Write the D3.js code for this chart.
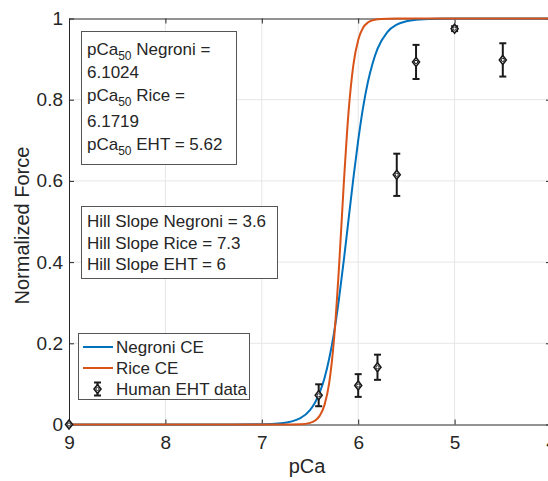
<!DOCTYPE html>
<html>
<head>
<meta charset="utf-8">
<script src="https://d3js.org/d3.v7.min.js"></script>
<style>
  body { margin: 0; background: #fff; }
  text { font-family: Arial, "Liberation Sans", sans-serif; }
</style>
</head>
<body>
<svg width="548" height="481"></svg>
<script>
// curve samples (pCa, normalized force)
var curvePCa = [9, 8, 7.5, 7, 6.8, 6.6, 6.5, 6.45, 6.4, 6.35, 6.3, 6.25, 6.2, 6.15, 6.1, 6.05, 6.0,
  5.95, 5.9, 5.85, 5.8, 5.7, 5.6, 5.5, 5.4, 5.2, 5.0, 4.5, 4]
var negroniForce = [0, 0, 0.00001, 0.0006, 0.0031, 0.0159, 0.0357, 0.0531, 0.0783, 0.1138, 0.163, 0.227,
  0.308, 0.403, 0.505, 0.607, 0.700, 0.780, 0.843, 0.890, 0.925, 0.966, 0.985, 0.9933, 0.997, 0.9994, 1, 1, 1]
var riceForce = [0, 0, 0, 0, 0.00003, 0.00075, 0.0040, 0.0092, 0.0212, 0.0477, 0.104, 0.212,
  0.384, 0.591, 0.770, 0.886, 0.947, 0.977, 0.990, 0.9956, 0.998, 0.9996, 1, 1, 1, 1, 1, 1, 1]

// human EHT measurements
var ehtPCa = [9, 6.41, 6.0, 5.8, 5.6, 5.4, 5.0, 4.5]
var ehtForce = [0, 0.072, 0.096, 0.141, 0.615, 0.893, 0.975, 0.898]
var ehtErr = [0, 0.027, 0.028, 0.031, 0.052, 0.042, 0.006, 0.041]

var xTicks = [9, 8, 7, 6, 5, 4]
var yTicks = [0, 0.2, 0.4, 0.6, 0.8, 1]

var noteLines1 = [["pCa", "50", " Negroni ="], ["6.1024"], ["pCa", "50", " Rice ="], ["6.1719"], ["pCa", "50", " EHT = 5.62"]]
var noteLines2 = ["Hill Slope Negroni = 3.6", "Hill Slope Rice = 7.3", "Hill Slope EHT = 6"]

var blue = "#0072BD", orange = "#D95319", ink = "#262626"

var svg = d3.select("svg")
var plotL = 69, plotR = 551, plotT = 18.5, plotB = 424.5

var x = d3.scaleLinear().domain([9, 4]).range([plotL, plotR])
var y = d3.scaleLinear().domain([0, 1]).range([plotB, plotT])

// grid
var grid = svg.append("g")
grid.selectAll(".gx").data(xTicks.slice(1, -1)).enter().append("line")
  .attr("x1", function (d) { return x(d) }).attr("x2", function (d) { return x(d) })
  .attr("y1", plotT).attr("y2", plotB)
  .attr("stroke", "#e6e6e6").attr("stroke-width", 1)
grid.selectAll(".gy").data(yTicks.slice(1, -1)).enter().append("line")
  .attr("x1", plotL).attr("x2", plotR)
  .attr("y1", function (d) { return y(d) }).attr("y2", function (d) { return y(d) })
  .attr("stroke", "#e6e6e6").attr("stroke-width", 1)

// axes
svg.append("g").attr("transform", "translate(0," + plotB + ")")
  .call(d3.axisBottom(x).tickValues(xTicks).tickFormat(d3.format("d")).tickSizeInner(-5).tickSizeOuter(0).tickPadding(11))
svg.append("g").attr("transform", "translate(" + plotL + ",0)")
  .call(d3.axisLeft(y).tickValues(yTicks).tickFormat(function (d) { return d === 0 || d === 1 ? d : d3.format(".1f")(d) })
    .tickSizeInner(-5).tickSizeOuter(0).tickPadding(6))
svg.append("g").attr("transform", "translate(0," + plotT + ")")
  .call(d3.axisTop(x).tickValues(xTicks).tickFormat("").tickSizeInner(-5).tickSizeOuter(0))
svg.append("g").attr("transform", "translate(" + plotR + ",0)")
  .call(d3.axisRight(y).tickValues(yTicks).tickFormat("").tickSizeInner(-5).tickSizeOuter(0))
svg.selectAll(".domain").attr("stroke", ink).attr("stroke-width", 1)
svg.selectAll(".tick line").attr("stroke", ink)
svg.selectAll(".tick text").attr("fill", ink).style("font-size", "19px")

svg.append("text").attr("x", x(6.53)).attr("y", 473).attr("text-anchor", "middle")
  .attr("fill", ink).style("font-size", "20px").text("pCa")
svg.append("text").attr("transform", "translate(29," + y(0.49) + ") rotate(-90)")
  .attr("text-anchor", "middle").attr("fill", ink).style("font-size", "20px").text("Normalized Force")

// curves
var line = d3.line()
  .x(function (d) { return x(d[0]) })
  .y(function (d) { return y(d[1]) })
  .curve(d3.curveMonotoneX)
svg.append("path").datum(d3.zip(curvePCa, negroniForce))
  .attr("d", line).attr("fill", "none").attr("stroke", blue).attr("stroke-width", 2)
svg.append("path").datum(d3.zip(curvePCa, riceForce))
  .attr("d", line).attr("fill", "none").attr("stroke", orange).attr("stroke-width", 2)

// EHT data with error bars
function drawPoint(g, cx, cy, lo, hi) {
  if (hi - lo > 1) {
    g.append("line").attr("x1", cx).attr("x2", cx).attr("y1", lo).attr("y2", hi)
      .attr("stroke", "#1a1a1a").attr("stroke-width", 2)
    g.append("line").attr("x1", cx - 3.5).attr("x2", cx + 3.5).attr("y1", lo).attr("y2", lo)
      .attr("stroke", "#1a1a1a").attr("stroke-width", 2)
    g.append("line").attr("x1", cx - 3.5).attr("x2", cx + 3.5).attr("y1", hi).attr("y2", hi)
      .attr("stroke", "#1a1a1a").attr("stroke-width", 2)
  }
  g.append("path").attr("d", "M" + cx + "," + (cy - 4.5) + "L" + (cx + 3.5) + "," + cy + "L" + cx + "," + (cy + 4.5) + "L" + (cx - 3.5) + "," + cy + "Z")
    .attr("fill", "#fff").attr("stroke", "#1a1a1a").attr("stroke-width", 1.6)
  g.append("circle").attr("cx", cx).attr("cy", cy).attr("r", 1.6)
    .attr("fill", "#fff").attr("stroke", "#1a1a1a").attr("stroke-width", 1)
}
var pts = svg.append("g")
ehtPCa.forEach(function (p, i) {
  drawPoint(pts, x(p), y(ehtForce[i]), y(ehtForce[i] + ehtErr[i]), y(ehtForce[i] - ehtErr[i]))
})

// annotation boxes
var box1 = svg.append("g")
var box1Base = [55, 78, 101, 127, 150]
box1.append("rect").attr("x", 81.5).attr("y", 31.5).attr("width", 155).attr("height", 133)
  .attr("fill", "#fff").attr("stroke", "#555").attr("stroke-width", 1)
noteLines1.forEach(function (parts, i) {
  var t = box1.append("text").attr("x", 87).attr("y", box1Base[i]).attr("fill", ink).style("font-size", "17px")
  t.append("tspan").text(parts[0])
  if (parts.length > 1) {
    t.append("tspan").attr("dy", 5).style("font-size", "12px").text(parts[1])
    t.append("tspan").attr("dy", -5).text(parts[2])
  }
})

var box2 = svg.append("g")
box2.append("rect").attr("x", 81.5).attr("y", 206.5).attr("width", 196).attr("height", 72)
  .attr("fill", "#fff").attr("stroke", "#555").attr("stroke-width", 1)
noteLines2.forEach(function (s, i) {
  box2.append("text").attr("x", 87).attr("y", 227 + i * 21.5).attr("fill", ink).style("font-size", "17px").text(s)
})

// legend
var lg = svg.append("g")
lg.append("rect").attr("x", 78.5).attr("y", 333.5).attr("width", 171).attr("height", 66)
  .attr("fill", "#fff").attr("stroke", "#555").attr("stroke-width", 1)
var legendItems = [["Negroni CE", blue], ["Rice CE", orange], ["Human EHT data", null]]
legendItems.forEach(function (it, i) {
  var ly = 347 + i * 21
  if (it[1]) {
    lg.append("line").attr("x1", 83).attr("x2", 113).attr("y1", ly).attr("y2", ly)
      .attr("stroke", it[1]).attr("stroke-width", 2)
  } else {
    drawPoint(lg, 97.5, ly, ly - 6.5, ly + 6.5)
  }
  lg.append("text").attr("x", 116).attr("y", ly + 5.5).attr("fill", ink).style("font-size", "17px").text(it[0])
})
</script>
</body>
</html>
